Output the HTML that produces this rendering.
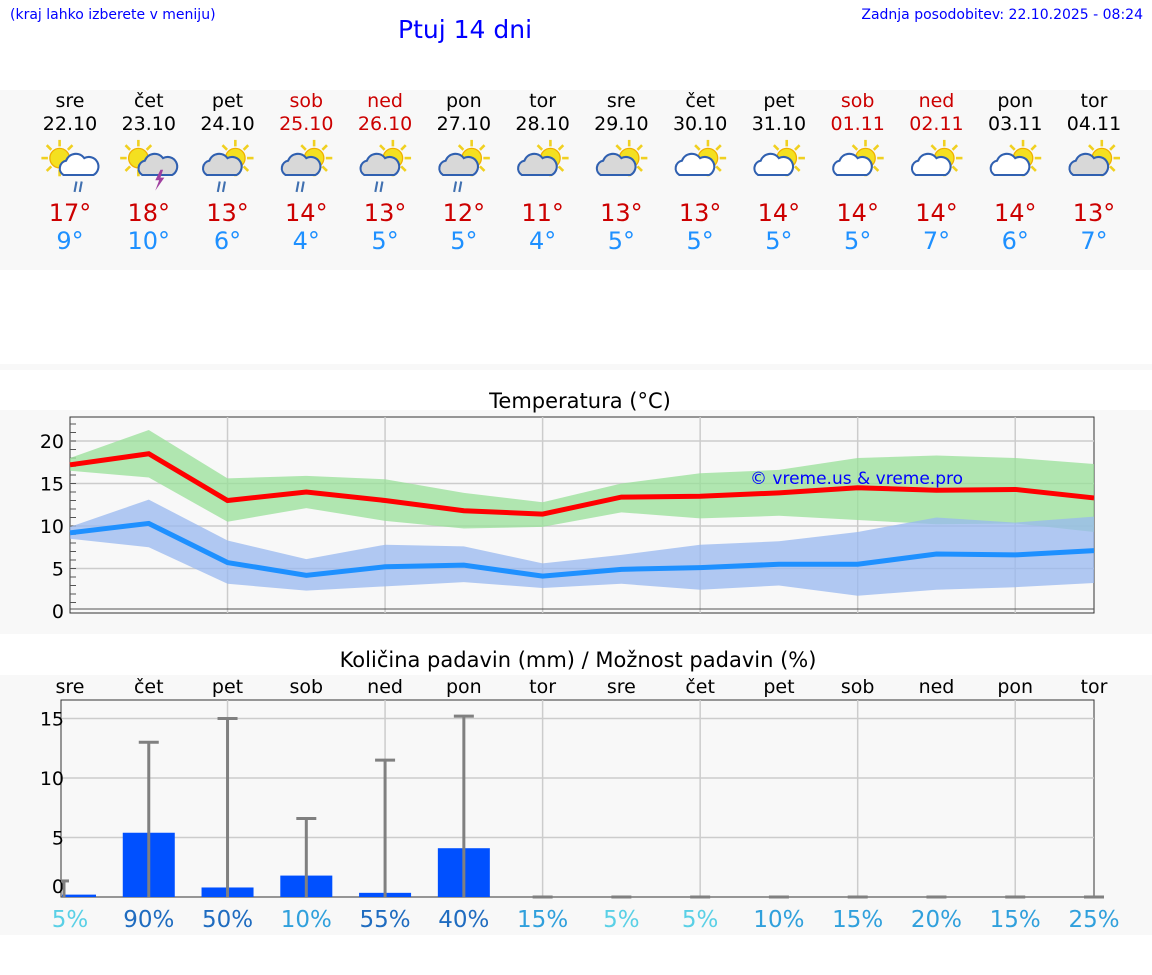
<!DOCTYPE html>
<html><head><meta charset="utf-8"><style>
body{margin:0;width:1152px;height:975px;background:#fff;font-family:"DejaVu Sans","Liberation Sans",sans-serif;position:relative;overflow:hidden}
.abs{position:absolute}
</style></head><body>
<div class="abs" style="left:10px;top:7px;font-size:14px;color:#0000ff">(kraj lahko izberete v meniju)</div>
<div class="abs" style="left:398px;top:15px;font-size:25px;color:#0000ff">Ptuj 14 dni</div>
<div class="abs" style="right:9px;top:7px;font-size:14px;color:#0000ff">Zadnja posodobitev: 22.10.2025 - 08:24</div>
<div class="abs" style="left:0;top:90px;width:1152px;height:180px;background:#f8f8f8"></div>
<div class="abs" style="left:0;top:364px;width:1152px;height:6px;background:#f8f8f8"></div>
<div class="abs" style="left:0;top:410px;width:1152px;height:224px;background:#f8f8f8"></div>
<div class="abs" style="left:0;top:675px;width:1152px;height:260px;background:#f8f8f8"></div>
<svg id="svg" class="abs" style="left:0;top:0" width="1152" height="975"></svg>
<script>
const days=["sre","čet","pet","sob","ned","pon","tor","sre","čet","pet","sob","ned","pon","tor"];
const dates=["22.10","23.10","24.10","25.10","26.10","27.10","28.10","29.10","30.10","31.10","01.11","02.11","03.11","04.11"];
const weekend=[0,0,0,1,1,0,0,0,0,0,1,1,0,0];
const icons=["rain","storm","rain2","rain2","rain2","rain2","cloud","cloud","sun","sun","sun","sun","sun","cloud"];
const tMax=[17.2,18.5,13,14,13,11.8,11.4,13.4,13.5,13.9,14.5,14.2,14.3,13.3];
const tMaxHi=[18,21.3,15.6,15.9,15.5,13.9,12.8,15,16.2,16.6,18,18.3,18,17.3];
const tMaxLo=[16.5,15.7,10.5,12.1,10.6,9.7,9.9,11.6,10.9,11.2,10.7,10.2,10.3,9.3];
const tMin=[9.2,10.3,5.7,4.2,5.2,5.4,4.1,4.9,5.1,5.5,5.5,6.7,6.6,7.1];
const tMinHi=[9.9,13.1,8.3,6.1,7.8,7.6,5.6,6.6,7.8,8.2,9.3,11,10.4,11.1];
const tMinLo=[8.5,7.5,3.2,2.4,2.9,3.4,2.7,3.2,2.5,3,1.8,2.5,2.8,3.3];
const maxLabels=[17,18,13,14,13,12,11,13,13,14,14,14,14,13];
const minLabels=[9,10,6,4,5,5,4,5,5,5,5,7,6,7];
const precip=[0.2,5.4,0.8,1.8,0.35,4.1,0,0,0,0,0,0,0,0];
const precipHi=[1.35,13,15,6.6,11.5,15.2,0,0,0,0,0,0,0,0];
const chance=[5,90,50,10,55,40,15,5,5,10,15,20,15,25];
const tTicks=[0,5,10,15,20];
const pTicks=[0,5,10,15];
const svg=document.getElementById('svg');const NS="http://www.w3.org/2000/svg";
function el(t,a,p){const e=document.createElementNS(NS,t);for(const k in a)e.setAttribute(k,a[k]);(p||svg).appendChild(e);return e;}
function txt(s,a){const e=el('text',a);e.textContent=s;return e;}
const X=i=>70+i*(1094-70)/13;
const TY=v=>611-v*8.5;
const PY=v=>897-v*11.9;
for(let i=0;i<14;i++){
 const c=weekend[i]?"#cc0000":"#000";
 let t=txt(days[i],{x:X(i),y:107,'font-size':19,'text-anchor':'middle',fill:c});
 
 t=txt(dates[i],{x:X(i),y:130,'font-size':19,'text-anchor':'middle',fill:c});
 
 const g=el('g',{transform:`translate(${X(i)},162) scale(1.3)`});
 
 const k=icons[i];
 const sx=(k=="rain"||k=="storm")?-8:6, sy=-3;
 for(let r=0;r<8;r++){const a=r*Math.PI/4;el('line',{x1:sx+Math.cos(a)*9,y1:sy+Math.sin(a)*9,x2:sx+Math.cos(a)*14,y2:sy+Math.sin(a)*14,stroke:'#f0d020','stroke-width':2},g);}
 el('circle',{cx:sx,cy:sy,r:7.5,fill:'#f4e020',stroke:'#f0b000','stroke-width':1},g);
 const cx=(k=="rain"||k=="storm")?7:-4, fillc=(k=="rain"||k=="sun")?'#fff':'#d8d8d8';
 el('path',{d:`M${cx-12},${10} a6,6 0 0 1 2,-11 a8,8 0 0 1 14,-2 a6,6 0 0 1 7,13 z`,fill:fillc,stroke:'#3060b0','stroke-width':1.6},g);
 if(k=="rain"||k=="rain2"){el('line',{x1:cx-2,y1:15,x2:cx-3.5,y2:23,stroke:'#4070b0','stroke-width':1.6},g);el('line',{x1:cx+2,y1:15,x2:cx+0.5,y2:23,stroke:'#4070b0','stroke-width':1.6},g);}
 if(k=="storm")el('path',{d:`M${cx+2},6 l-4,8 h3 l-3,8 l7,-10 h-3 l2,-6z`,fill:'#a040a0'},g);
 t=txt(maxLabels[i]+"°",{x:X(i),y:221,'font-size':24,'text-anchor':'middle',fill:'#cc0000'});
 
 t=txt(minLabels[i]+"°",{x:X(i),y:249,'font-size':24,'text-anchor':'middle',fill:'#1e90ff'});
 
}
let t=txt("Temperatura (°C)",{x:580,y:408,'font-size':21,'text-anchor':'middle',fill:'#000'});

el('rect',{x:70,y:417,width:1024,height:196,fill:'#f8f8f8',stroke:'#333','stroke-width':1});
tTicks.forEach(v=>{if(v>0)el('line',{x1:70,x2:1094,y1:TY(v),y2:TY(v),stroke:'#ccc','stroke-width':1.5});
 const l=txt(v,{x:64,y:TY(v)+7,'font-size':19,'text-anchor':'end',fill:'#000'});
 });
for(let v=1;v<23;v++)el('line',{x1:70,x2:76,y1:TY(v),y2:TY(v),stroke:'#555','stroke-width':1});
for(let i=2;i<13;i+=2)el('line',{x1:X(i),x2:X(i),y1:417,y2:613,stroke:'#ccc','stroke-width':1.5});
el('line',{x1:70,x2:1094,y1:609,y2:609,stroke:'#555','stroke-width':1});
function band(hi,lo,fill,name){let d="M"+hi.map((v,i)=>X(i)+","+TY(v)).join(" L")+" L"+lo.map((v,i)=>X(i)+","+TY(v)).reverse().join(" L")+"Z";
 const p=el('path',{d,fill,'fill-opacity':0.75});}
function line(vals,col,name){const p=el('polyline',{points:vals.map((v,i)=>X(i)+","+TY(v)).join(" "),fill:'none',stroke:col,'stroke-width':5});
 }
band(tMaxHi,tMaxLo,'#98e098','max-temp-range');
band(tMinHi,tMinLo,'#98b8f0','min-temp-range');
line(tMax,'#ff0000','max-temp-line');line(tMin,'#1e90ff','min-temp-line');
t=txt("© vreme.us & vreme.pro",{x:750,y:484,'font-size':17,fill:'#0000ff'});

t=txt("Količina padavin (mm) / Možnost padavin (%)",{x:578,y:667,'font-size':21,'text-anchor':'middle',fill:'#000'});

for(let i=0;i<14;i++){const l=txt(days[i],{x:X(i),y:693,'font-size':19,'text-anchor':'middle',fill:'#000'});
 }
el('rect',{x:61,y:700,width:1033,height:197,fill:'#f8f8f8',stroke:'#333','stroke-width':1});
pTicks.forEach(v=>{if(v>0)el('line',{x1:61,x2:1094,y1:PY(v),y2:PY(v),stroke:'#ccc','stroke-width':1.5});
 const l=txt(v,{x:64,y:(v==0?PY(v)-4:PY(v)+7),'font-size':19,'text-anchor':'end',fill:'#000'});
 });
for(let i=2;i<13;i+=2)el('line',{x1:X(i),x2:X(i),y1:700,y2:897,stroke:'#ccc','stroke-width':1.5});
for(let i=0;i<14;i++){
 if(precip[i]>0){const x0=Math.max(62,X(i)-26),x1=X(i)+26;
  const b=el('rect',{x:x0,y:PY(precip[i]),width:x1-x0,height:897-PY(precip[i]),fill:'#0050ff'});
  }
 const ex=i==0?64:X(i);
 const e=el('line',{x1:ex,x2:ex,y1:PY(precipHi[i]),y2:897,stroke:'#808080','stroke-width':3});
 
 el('line',{x1:(i==0?61:X(i)-10),x2:(i==0?69:X(i)+10),y1:PY(precipHi[i]),y2:PY(precipHi[i]),stroke:'#808080','stroke-width':3});
 const c=chance[i]<=5?'#5ad0e6':chance[i]<=25?'#30a0dc':'#1f6cc0';
 const l=txt(chance[i]+"%",{x:X(i),y:927,'font-size':23,'text-anchor':'middle',fill:c});
 
}
</script>
</body></html>
